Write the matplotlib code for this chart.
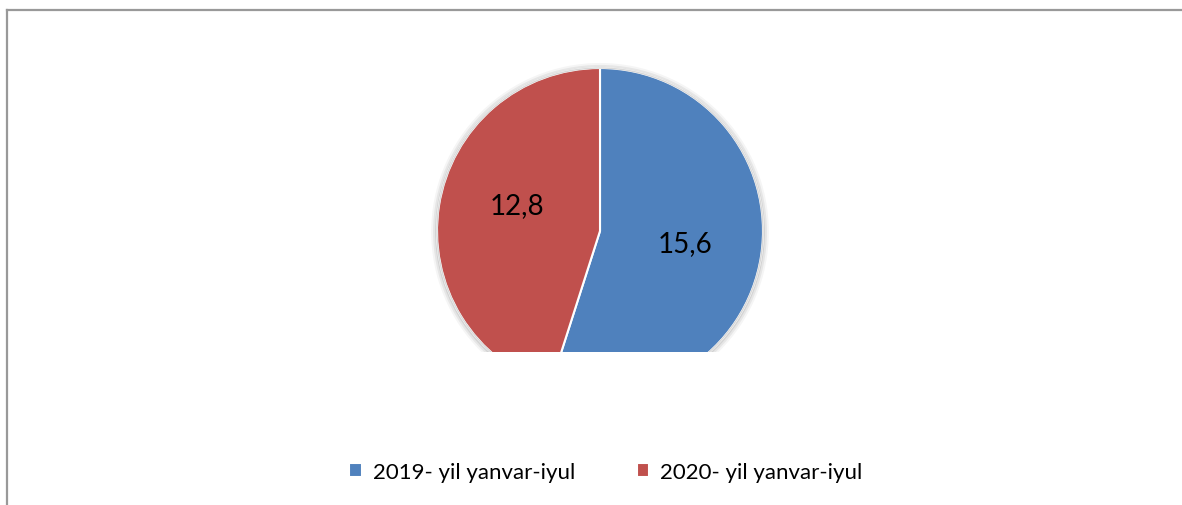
import matplotlib.pyplot as plt
from matplotlib.lines import Line2D
from matplotlib.patches import Circle

labels = ['2019- yil yanvar-iyul', '2020- yil yanvar-iyul']
values = [15.6, 12.8]
value_text = ['15,6', '12,8']
colors = ['#4F81BD', '#C0504D']

plt.rcParams['font.family'] = ['Lato', 'DejaVu Sans']

W, H = 1182, 506
fig = plt.figure(figsize=(W / 100, H / 100), dpi=100)

# pie axes: center (600,232), radius ~163 px, clipped at y=353
cx, cy, r = 600, 232, 163
bottom_px = 353
ax = fig.add_axes([(cx - r - 10) / W, (H - bottom_px) / H, (2 * r + 20) / W, (bottom_px - (cy - r) + 10) / H])

# soft shadow
for i, a in enumerate([0.04, 0.06, 0.08]):
    sh = Circle((0.0, -0.005), 1.0 + 0.012 * (3 - i), color='#000000', alpha=a, lw=0, zorder=0)
    ax.add_patch(sh)

wedges, _ = ax.pie(values, colors=colors, startangle=90, counterclock=False,
                   wedgeprops=dict(edgecolor='white', linewidth=1.5))
for w in wedges:
    w.set_zorder(2)
ax.add_patch(Circle((0, 0), 1.0, fill=False, ec='#d8d8d8', lw=1, zorder=3))

ax.set_aspect('auto')
ax.set_xlim(-1.0 - 10 / r, 1.0 + 10 / r)
ax.set_ylim(-(bottom_px - cy) / r, 1.0 + 10 / r)
ax.axis('off')
for p in ax.patches:
    p.set_clip_on(True)
    p.set_clip_path(ax.patch)

# value labels
pos = [(685, 244), (517, 206)]
for (px, py), t in zip(pos, value_text):
    fig.text(px / W, 1 - py / H, t, fontsize=20, ha='center', va='center', color='black')

fig.legend(wedges, labels, loc='center', bbox_to_anchor=(606 / W, 1 - 473 / H), ncol=2,
           frameon=False, fontsize=16, handlelength=0.55, handleheight=0.55,
           handletextpad=0.5, columnspacing=2.8)

# chart frame (left and top edges)
fig.add_artist(Line2D([7 / W, 7 / W], [0, 1 - 11 / H], color='#999999', lw=1.6, transform=fig.transFigure))
fig.add_artist(Line2D([7 / W, 1], [1 - 11 / H, 1 - 11 / H], color='#999999', lw=1.6, transform=fig.transFigure))

fig.savefig('out.png', dpi=100)
